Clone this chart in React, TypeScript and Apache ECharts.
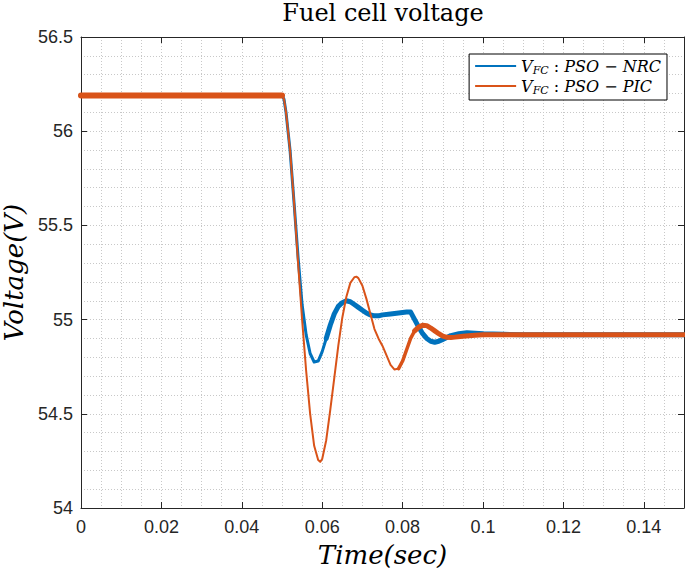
import React, { useEffect, useRef } from "react";
import * as echarts from "echarts";

const NRC_NAME = "VFC : PSO − NRC";
const PIC_NAME = "VFC : PSO − PIC";

const timeNRC = [0, 0.05, 0.0505, 0.051, 0.052, 0.053, 0.054, 0.055, 0.056, 0.057, 0.058, 0.059, 0.06, 0.061, 0.062, 0.063, 0.064, 0.065, 0.066, 0.067, 0.068, 0.069, 0.07, 0.071, 0.072, 0.073, 0.074, 0.075, 0.077, 0.079, 0.081, 0.082, 0.083, 0.084, 0.085, 0.086, 0.087, 0.088, 0.089, 0.09, 0.091, 0.092, 0.094, 0.096, 0.098, 0.1, 0.105, 0.11, 0.15];
const voltNRC = [56.19, 56.19, 56.17, 56.1, 55.9, 55.62, 55.33, 55.08, 54.92, 54.82, 54.775, 54.78, 54.83, 54.9, 54.97, 55.03, 55.07, 55.09, 55.1, 55.095, 55.08, 55.065, 55.05, 55.035, 55.025, 55.02, 55.02, 55.025, 55.03, 55.035, 55.04, 55.04, 55.0, 54.96, 54.925, 54.9, 54.885, 54.88, 54.885, 54.895, 54.905, 54.915, 54.925, 54.93, 54.928, 54.925, 54.922, 54.92, 54.92];

const timePIC = [0, 0.05, 0.0505, 0.051, 0.052, 0.053, 0.054, 0.055, 0.056, 0.057, 0.058, 0.059, 0.0595, 0.06, 0.061, 0.062, 0.063, 0.064, 0.065, 0.066, 0.067, 0.068, 0.0685, 0.069, 0.07, 0.071, 0.072, 0.073, 0.074, 0.075, 0.076, 0.077, 0.078, 0.079, 0.08, 0.081, 0.082, 0.083, 0.084, 0.085, 0.086, 0.087, 0.088, 0.089, 0.09, 0.091, 0.092, 0.093, 0.095, 0.098, 0.1, 0.15];
const voltPIC = [56.19, 56.19, 56.17, 56.1, 55.9, 55.62, 55.3, 55.0, 54.73, 54.5, 54.33, 54.255, 54.245, 54.26, 54.36, 54.52, 54.69, 54.86, 55.01, 55.12, 55.195, 55.225, 55.228, 55.22, 55.18, 55.11, 55.03, 54.95, 54.9, 54.86, 54.81, 54.76, 54.735, 54.74, 54.78, 54.84, 54.9, 54.94, 54.96, 54.97, 54.968, 54.955, 54.94, 54.925, 54.912, 54.906, 54.905, 54.907, 54.912, 54.917, 54.92, 54.92];

const xTicks = { min: 0, max: 0.15, interval: 0.02 };
const yTicks = { min: 54, max: 56.5, interval: 0.5 };

const BLUE = "#0072BD";
const ORANGE = "#D95319";

function seg(xs: number[], ys: number[], a: number, b: number) {
  const out: number[][] = [];
  for (let i = 0; i < xs.length; i++) {
    if (xs[i] >= a - 1e-9 && xs[i] <= b + 1e-9) out.push([xs[i], ys[i]]);
  }
  return out;
}

function lineSeries(name: string, color: string, data: number[][], width: number) {
  return {
    type: "line",
    name,
    data,
    showSymbol: false,
    symbol: "none",
    lineStyle: { color, width, cap: "round", join: "round" },
    itemStyle: { color },
    xAxisIndex: 0,
    yAxisIndex: 0,
  };
}

const AXIS_COLOR = "#262626";
const GRID_COLOR = "#c8c8c8";

export default function App() {
  const ref = useRef<HTMLDivElement>(null);
  useEffect(() => {
    if (!ref.current) return;
    const chart = echarts.init(ref.current, null, { renderer: "svg" });
    const tickLabel = {
      fontFamily: "Liberation Sans",
      fontSize: 18,
      color: AXIS_COLOR,
    };
    const gridLine = { show: true, lineStyle: { color: GRID_COLOR, type: [1, 2], width: 1 } };
    const axisLine = { show: true, onZero: false, lineStyle: { color: AXIS_COLOR, width: 1 } };
    const axisTick = { show: true, inside: true, length: 6, lineStyle: { color: AXIS_COLOR, width: 1 } };
    const italic = { fontFamily: "DejaVu Serif", fontStyle: "italic", fontSize: 16, lineHeight: 20, color: "#000" };
    const option: any = {
      animation: false,
      backgroundColor: "#fff",
      title: {
        text: "Fuel cell voltage",
        left: 383,
        textAlign: "center",
        top: 1,
        padding: 0,
        textStyle: { fontFamily: "DejaVu Serif", fontSize: 24, fontWeight: "normal", color: "#000" },
      },
      grid: { left: 81, right: 1, top: 37, bottom: 66, containLabel: false, outerBoundsMode: "none" },
      legend: {
        data: [NRC_NAME, PIC_NAME],
        orient: "vertical",
        right: 18,
        top: 54,
        padding: [4, 6, 4, 6],
        itemGap: 2,
        itemWidth: 41,
        itemHeight: 2,
        icon: "rect",
        borderColor: "#000",
        borderWidth: 1,
        borderRadius: 0,
        backgroundColor: "#fff",
        selectedMode: false,
        formatter: (name: string) =>
          name === NRC_NAME
            ? "{i|V}{s|FC}{n| : }{i|PSO − NRC}"
            : "{i|V}{s|FC}{n| : }{i|PSO − PIC}",
        textStyle: {
          rich: {
            i: italic,
            n: { fontFamily: "DejaVu Serif", fontSize: 16, lineHeight: 20, color: "#000" },
            s: { fontFamily: "DejaVu Serif", fontStyle: "italic", fontSize: 11, lineHeight: 10, verticalAlign: "bottom", color: "#000" },
          },
        },
      },
      xAxis: [
        {
          type: "value",
          position: "bottom",
          ...xTicks,
          name: "Time(sec)",
          nameLocation: "middle",
          nameGap: 34,
          nameTextStyle: { fontFamily: "DejaVu Serif", fontStyle: "italic", fontSize: 26, color: "#000" },
          axisLine,
          axisTick,
          axisLabel: {
            ...tickLabel,
            margin: 10,
            showMaxLabel: false,
            formatter: (v: number) => String(+v.toFixed(3)),
          },
          splitLine: gridLine,
          minorTick: { show: false, splitNumber: 4 },
          minorSplitLine: gridLine,
        },
        {
          type: "value",
          position: "top",
          ...xTicks,
          axisLine,
          axisTick,
          axisLabel: { show: false },
          splitLine: { show: false },
        },
      ],
      yAxis: [
        {
          type: "value",
          position: "left",
          ...yTicks,
          name: "Voltage(V)",
          nameLocation: "middle",
          nameGap: 48,
          nameRotate: 90,
          nameTextStyle: { fontFamily: "DejaVu Serif", fontStyle: "italic", fontSize: 26, lineHeight: 26, color: "#000" },
          axisLine,
          axisTick,
          axisLabel: { ...tickLabel, margin: 8, formatter: (v: number) => String(+v.toFixed(2)) },
          splitLine: gridLine,
          minorTick: { show: false, splitNumber: 5 },
          minorSplitLine: gridLine,
        },
        {
          type: "value",
          position: "right",
          ...yTicks,
          axisLine,
          axisTick,
          axisLabel: { show: false },
          splitLine: { show: false },
        },
      ],
      series: [
        lineSeries(NRC_NAME, BLUE, seg(timeNRC, voltNRC, 0, 0.05), 5),
        lineSeries(NRC_NAME, BLUE, seg(timeNRC, voltNRC, 0.05, 0.061), 3),
        lineSeries(NRC_NAME, BLUE, seg(timeNRC, voltNRC, 0.061, 0.15), 5),
        lineSeries(PIC_NAME, ORANGE, seg(timePIC, voltPIC, 0, 0.05), 6),
        lineSeries(PIC_NAME, ORANGE, seg(timePIC, voltPIC, 0.05, 0.079), 2),
        lineSeries(PIC_NAME, ORANGE, seg(timePIC, voltPIC, 0.079, 0.083), 3.5),
        lineSeries(PIC_NAME, ORANGE, seg(timePIC, voltPIC, 0.083, 0.15), 5),
      ],
    };
    chart.setOption(option);
    return () => chart.dispose();
  }, []);
  return (
    <div
      ref={ref}
      style={{ position: "fixed", left: 0, top: 0, width: 685, height: 574, background: "#fff" }}
    />
  );
}
